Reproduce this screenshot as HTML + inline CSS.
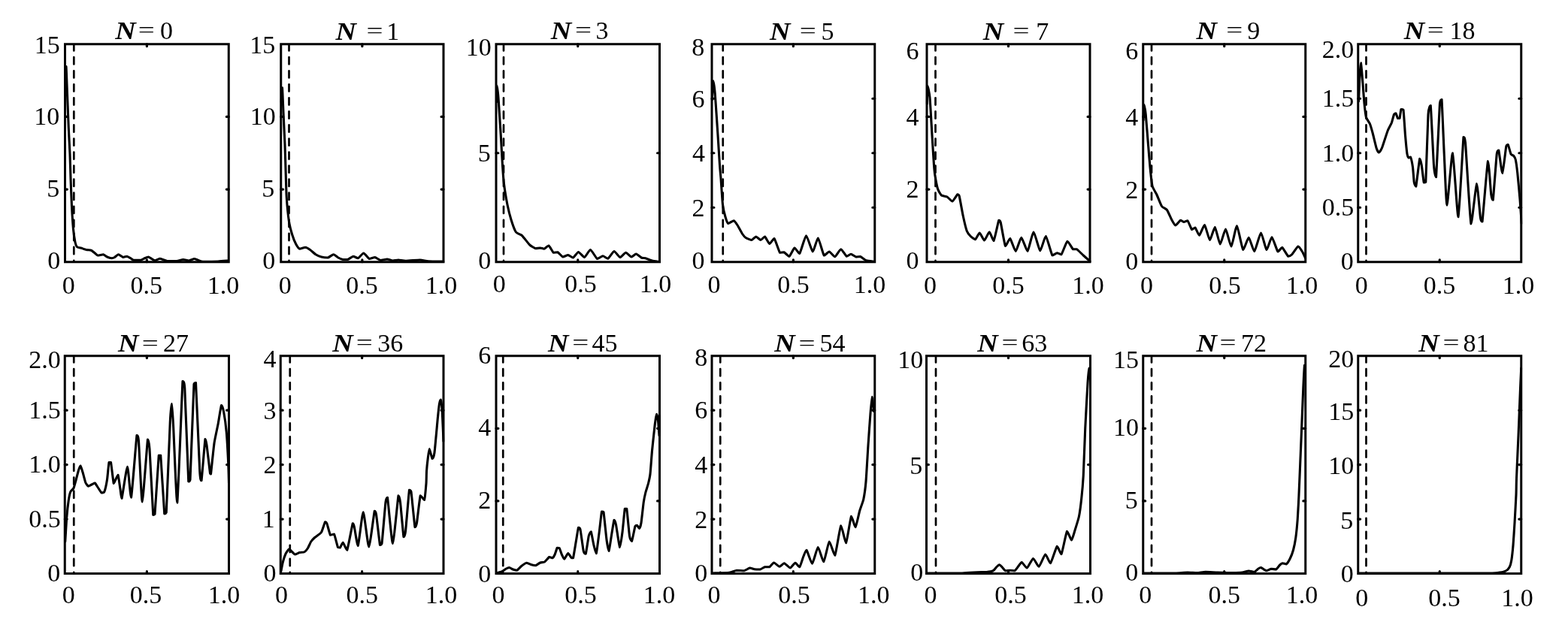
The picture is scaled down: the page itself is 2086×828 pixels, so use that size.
<!DOCTYPE html>
<html lang="en"><head><meta charset="utf-8"><title>Distributions for N</title>
<style>html,body{margin:0;padding:0;background:#fff}svg{display:block}text{font-family:"Liberation Serif","Times New Roman",serif;fill:#000}.t{font-size:34px}.n{font-size:34px;font-weight:bold;font-style:italic}.ax{fill:none;stroke:#000;stroke-width:3;stroke-linejoin:miter}.tk{stroke:#000;stroke-width:3.2;stroke-linecap:round}.cv{fill:none;stroke:#000;stroke-width:3.1;stroke-linejoin:round;stroke-linecap:round}.ds{stroke:#000;stroke-width:2.7;stroke-dasharray:9.25 8.8;stroke-linecap:round}</style></head><body>
<svg width="2086" height="828" viewBox="0 0 2086 828">
<rect width="2086" height="828" fill="#fff"/>
<g>
<clipPath id="c0"><rect x="85" y="57.25" width="220.75" height="293"/></clipPath>
<line class="ds" x1="98.3" y1="60.25" x2="98.3" y2="347.25" stroke-dashoffset="2.1"/>
<path class="cv" clip-path="url(#c0)" d="M86.9 102C87 100.78 87.81 88.5 88 88.5C88.19 89.44 88.71 105.17 89 112.5C89.29 119.83 90.89 161.68 91.25 170C91.61 178.32 92.75 198.93 93 205C93.25 211.07 93.78 231.2 94 237.5C94.22 243.8 95.19 268.93 95.5 275C95.81 281.07 97.09 300.73 97.5 305C97.91 309.27 99.55 320.36 100 322.5C100.45 324.64 101.83 328.07 102.5 328.75C103.17 329.43 106.38 329.66 107.5 330C108.62 330.34 113.76 332.21 115 332.5C116.24 332.79 120.24 332.85 121.25 333.25C122.26 333.65 125.46 336.39 126.25 337C127.04 337.61 128.99 339.84 130 340C131.01 340 136.38 338.75 137.5 338.75C138.62 338.93 141.49 341.55 142.5 342C143.51 342.45 147.85 343.7 148.75 343.75C149.65 343.75 151.71 342.95 152.5 342.5C153.29 342.05 156.49 338.75 157.5 338.75C158.51 338.75 162.74 342.27 163.75 342.5C164.76 342.5 167.85 341.25 168.75 341.25C169.65 341.36 172.96 343.3 173.75 343.75C174.54 344.2 176.26 346.02 177.5 346.25C178.74 346.25 186.15 346.25 187.5 346.25C188.85 346.02 191.6 344.13 192.5 343.75C193.4 343.37 196.6 342 197.5 342C198.4 342.11 201.71 344.57 202.5 345C203.29 345.43 205.35 346.75 206.25 346.75C207.15 346.68 211.49 344.34 212.5 344.25C213.51 344.25 216.6 345.46 217.5 345.75C218.4 346.04 220.93 347.34 222.5 347.5C224.07 347.5 233.09 347.5 235 347.5C236.91 347.32 242.29 345.55 243.75 345.5C245.21 345.5 249.9 347 251.25 347C252.6 346.91 257.51 344.5 258.75 344.5C259.99 344.5 263.99 346.66 265 347C266.01 347.34 267.75 348.16 270 348.25C272.25 348.25 286.96 348.11 290 348C293.04 347.89 302.51 347.09 303.75 347"/>
<rect class="ax" x="86.5" y="58.75" width="217.75" height="290"/>
<path class="tk" d="M195.38 58.75v2.9 M195.38 348.75v-2.9 M86.5 155.42h2.9 M304.25 155.42h-2.9 M86.5 252.08h2.9 M304.25 252.08h-2.9"/>
<text class="t" text-anchor="end" x="79.7" y="71.05">15</text>
<text class="t" text-anchor="end" x="79.2" y="165.8">10</text>
<text class="t" text-anchor="end" x="79.2" y="262.3">5</text>
<text class="t" text-anchor="end" x="80.2" y="358.3">0</text>
<text class="t" text-anchor="middle" x="91.25" y="390.5">0</text>
<text class="t" text-anchor="middle" x="194.75" y="390.5">0.5</text>
<text class="t" text-anchor="middle" x="296.9" y="390.5">1.0</text>
<text class="n" transform="translate(153.25 52) scale(1.12 1)">N</text>
<text class="t" transform="translate(183.76 49.4) scale(1.15 0.78)">=</text>
<text class="t" text-anchor="middle" x="221.5" y="52">0</text>
</g>
<g>
<clipPath id="c1"><rect x="372.25" y="57.25" width="219.25" height="293"/></clipPath>
<line class="ds" x1="384.5" y1="60.25" x2="384.5" y2="347.25" stroke-dashoffset="2.1"/>
<path class="cv" clip-path="url(#c1)" d="M374.2 136C374.32 134.27 375.25 116.75 375.5 116.75C375.75 118.01 376.69 143.18 377 150C377.31 156.82 378.73 185.75 379 192.5C379.27 199.25 379.8 218.7 380 225C380.2 231.3 380.85 256.2 381.25 262.5C381.65 268.8 383.82 290.5 384.5 295C385.18 299.5 387.92 309.8 388.75 312.5C389.58 315.2 392.85 323.31 393.75 325C394.65 326.69 397.62 330.87 398.75 331.25C399.88 331.25 405.01 329.25 406.25 329.25C407.49 329.36 411.26 331.64 412.5 332.5C413.74 333.36 418.65 337.89 420 338.75C421.35 339.61 426.04 341.62 427.5 342C428.96 342.38 434.79 343 436.25 343C437.71 342.71 442.51 338.75 443.75 338.75C444.99 338.75 448.88 342.39 450 343C451.12 343.61 455.12 345.27 456.25 345.5C457.38 345.5 461.26 345.5 462.5 345.5C463.74 345.12 468.76 341.41 470 341.25C471.24 341.25 475.01 343.75 476.25 343.75C477.49 343.37 482.4 337 483.75 337C485.1 337.07 489.9 344 491.25 344.5C492.6 344.5 497.4 342.5 498.75 342.5C500.1 342.68 504.79 346.27 506.25 346.5C507.71 346.5 513.54 345 515 345C516.46 345.05 521.15 346.91 522.5 347C523.85 347 528.42 346 530 346C531.58 346.02 537.41 347.25 540 347.25C542.59 347.25 556.05 346 558.75 346C561.45 346.05 567.19 347.57 570 347.75C572.81 347.93 588.2 347.98 590 348"/>
<rect class="ax" x="373.75" y="58.75" width="216.25" height="290"/>
<path class="tk" d="M481.88 58.75v2.9 M481.88 348.75v-2.9 M373.75 155.42h2.9 M590 155.42h-2.9 M373.75 252.08h2.9 M590 252.08h-2.9"/>
<text class="t" text-anchor="end" x="366.2" y="71.05">15</text>
<text class="t" text-anchor="end" x="366.7" y="165.8">10</text>
<text class="t" text-anchor="end" x="365.2" y="262.3">5</text>
<text class="t" text-anchor="end" x="366.2" y="358.05">0</text>
<text class="t" text-anchor="middle" x="379.25" y="390.5">0</text>
<text class="t" text-anchor="middle" x="481.5" y="390.5">0.5</text>
<text class="t" text-anchor="middle" x="586.9" y="390.5">1.0</text>
<text class="n" transform="translate(446.5 52.5) scale(1.12 1)">N</text>
<text class="t" transform="translate(487.51 49.9) scale(1.15 0.78)">=</text>
<text class="t" text-anchor="middle" x="522.75" y="52.5">1</text>
</g>
<g>
<clipPath id="c2"><rect x="658.5" y="57.25" width="220.5" height="293"/></clipPath>
<line class="ds" x1="670" y1="60.25" x2="670" y2="347.25" stroke-dashoffset="2.1"/>
<path class="cv" clip-path="url(#c2)" d="M660.4 136C660.48 134.04 661.02 114.79 661.25 114.25C661.48 114.25 662.55 124.08 663 130C663.45 135.92 665.75 171.9 666.25 180C666.75 188.1 668.12 214.15 668.5 220C668.88 225.85 669.91 240.28 670.5 245C671.09 249.72 674.14 268.23 675 272.5C675.86 276.77 678.99 289.24 680 292.5C681.01 295.76 685.01 306.9 686.25 308.75C687.49 310.6 692.62 312.1 693.75 313C694.88 313.9 697.74 317.56 698.75 318.75C699.76 319.94 703.76 325.17 705 326.25C706.24 327.33 711.26 330.41 712.5 330.75C713.74 330.75 717.74 330 718.75 330C719.76 330.05 722.74 331.25 723.75 331.25C724.76 330.98 728.88 327 730 327C731.12 327.45 735.17 335.46 736.25 336.25C737.33 336.25 740.88 335.75 742 335.75C743.12 336.27 747.51 341.66 748.75 342C749.99 342 754.51 339.5 755.75 339.5C756.99 339.59 761.26 343 762.5 343C763.74 342.64 768.15 335.55 769.5 335.5C770.85 335.5 776.06 342.5 777.5 342.5C778.94 342.23 783.97 332.5 785.5 332.5C787.03 332.68 793.01 343.76 794.5 344.5C795.99 344.5 800.72 340.77 802 340.75C803.28 340.75 807.4 344.25 808.75 344.25C810.1 343.69 815.54 334.66 817 334.5C818.46 334.5 823.61 342.34 825 342.5C826.39 342.5 831.15 336.3 832.5 336.25C833.85 336.25 838.76 341.84 840 342C841.24 342 845.01 338 846.25 338C847.49 338.11 852.62 342.73 853.75 343.25C854.88 343.75 857.51 343.41 858.75 343.75C859.99 344.09 865.92 346.57 867.5 347C869.08 347.43 875.46 348.37 876.25 348.5"/>
<rect class="ax" x="660" y="58.75" width="217.5" height="290"/>
<path class="tk" d="M768.75 58.75v2.9 M768.75 348.75v-2.9 M660 203.75h2.9 M877.5 203.75h-2.9"/>
<text class="t" text-anchor="end" x="653.7" y="74.3">10</text>
<text class="t" text-anchor="end" x="652.7" y="215.05">5</text>
<text class="t" text-anchor="end" x="653.2" y="358.3">0</text>
<text class="t" text-anchor="middle" x="664.25" y="388.75">0</text>
<text class="t" text-anchor="middle" x="772.5" y="388.75">0.5</text>
<text class="t" text-anchor="middle" x="871.9" y="388.75">1.0</text>
<text class="n" transform="translate(732.75 52) scale(1.12 1)">N</text>
<text class="t" transform="translate(765.01 49.4) scale(1.15 0.78)">=</text>
<text class="t" text-anchor="middle" x="800.88" y="52">3</text>
</g>
<g>
<clipPath id="c3"><rect x="945.5" y="57.25" width="219.75" height="293"/></clipPath>
<line class="ds" x1="961.75" y1="60.25" x2="961.75" y2="347.25" stroke-dashoffset="2.1"/>
<path class="cv" clip-path="url(#c3)" d="M947.3 133C947.45 130.73 948.64 108.47 949 107.75C949.36 107.75 950.71 118.5 951.25 125C951.79 131.5 954.44 171.45 955 180C955.56 188.55 957.14 214.82 957.5 220C957.86 225.18 958.64 232.78 959 237.5C959.36 242.22 960.96 267.89 961.5 272.5C962.04 277.11 964.35 286.5 965 288.75C965.65 291 967.74 297.05 968.75 297.5C969.76 297.5 975.12 293.75 976.25 293.75C977.38 293.98 980.24 298.43 981.25 300C982.26 301.57 986.49 309.74 987.5 311.25C988.51 312.76 991.38 316.01 992.5 316.75C993.62 317.49 998.81 319.5 1000 319.5C1001.19 319.34 1004.67 315 1005.75 315C1006.83 315 1010.94 319.5 1012 319.5C1013.06 319.5 1016.44 315 1017.5 315C1018.56 315.45 1022.62 324.27 1023.75 324.5C1024.88 324.5 1028.76 317.5 1030 317.5C1031.24 318.56 1036.33 334.61 1037.5 336.25C1038.67 336.25 1041.88 335.75 1043 335.75C1044.12 336.2 1048.74 341.25 1050 341.25C1051.26 340.73 1055.76 330.34 1057 330C1058.24 330 1062.36 337.5 1063.75 337.5C1065.14 336.04 1070.92 313.98 1072.5 313.75C1074.08 313.75 1079.83 334.71 1081.25 335C1082.67 335 1086.9 317 1088.25 317C1089.6 317.45 1094.9 338.38 1096.25 340C1097.6 340 1101.94 335 1103.25 335C1104.56 335.16 1109.36 341.75 1110.75 341.75C1112.14 341.46 1117.36 331.8 1118.75 331.75C1120.14 331.75 1125.06 340.67 1126.25 341.25C1127.44 341.25 1130.88 338.25 1132 338.25C1133.12 338.32 1137.62 341.71 1138.75 342C1139.88 342 1143.26 341.5 1144.5 341.5C1145.74 341.93 1150.88 346.14 1152.5 346.75C1154.12 347.36 1161.6 348.12 1162.5 348.25"/>
<rect class="ax" x="947" y="58.75" width="216.75" height="290"/>
<path class="tk" d="M1055.38 58.75v2.9 M1055.38 348.75v-2.9 M947 131.25h2.9 M1163.75 131.25h-2.9 M947 203.75h2.9 M1163.75 203.75h-2.9 M947 276.25h2.9 M1163.75 276.25h-2.9"/>
<text class="t" text-anchor="end" x="937.2" y="74.2">8</text>
<text class="t" text-anchor="end" x="937.45" y="143.3">6</text>
<text class="t" text-anchor="end" x="937.95" y="215.2">4</text>
<text class="t" text-anchor="end" x="937.45" y="288.3">2</text>
<text class="t" text-anchor="end" x="937.45" y="357.8">0</text>
<text class="t" text-anchor="middle" x="950" y="390">0</text>
<text class="t" text-anchor="middle" x="1055.6" y="390">0.5</text>
<text class="t" text-anchor="middle" x="1156.9" y="390">1.0</text>
<text class="n" transform="translate(1024 52.5) scale(1.12 1)">N</text>
<text class="t" transform="translate(1063.76 49.9) scale(1.15 0.78)">=</text>
<text class="t" text-anchor="middle" x="1101.12" y="52.5">5</text>
</g>
<g>
<clipPath id="c4"><rect x="1231.5" y="57.25" width="220" height="293"/></clipPath>
<line class="ds" x1="1244.5" y1="60.25" x2="1244.5" y2="347.25" stroke-dashoffset="2.1"/>
<path class="cv" clip-path="url(#c4)" d="M1233.3 138C1233.36 135.86 1233.67 114.97 1234 114.25C1234.33 114.25 1236.46 124.08 1237 130C1237.54 135.92 1239.51 171.9 1240 180C1240.49 188.1 1242.16 215.28 1242.5 220C1242.84 224.72 1243.3 229.69 1243.75 232.5C1244.2 235.31 1246.71 248.78 1247.5 251.25C1248.29 253.72 1251.38 259.03 1252.5 260C1253.62 260.97 1258.69 261.28 1260 262C1261.31 262.72 1265.76 268 1267 268C1268.24 267.71 1272.92 259.36 1273.75 258.75C1274.58 258.75 1275.58 258.75 1276.25 261.25C1276.92 263.84 1280.35 283.34 1281.25 287.5C1282.15 291.66 1285.35 305.07 1286.25 307.5C1287.15 309.93 1290.24 313.49 1291.25 314.5C1292.26 315.51 1296.42 318.75 1297.5 318.75C1298.58 318.35 1302.17 310 1303.25 310C1304.33 310.11 1308.33 320 1309.5 320C1310.67 319.89 1315.12 308.75 1316.25 308.75C1317.38 308.8 1320.88 320.5 1322 320.5C1323.12 319.11 1327.92 295.43 1328.75 293.25C1329.58 293.25 1330.46 293.25 1331.25 296.25C1332.04 299.33 1336.38 325.59 1337.5 327.5C1338.62 327.5 1342.51 317.5 1343.75 317.5C1344.99 318.13 1349.9 334.5 1351.25 334.5C1352.6 334.39 1357.33 316.27 1358.75 316.25C1360.17 316.25 1365.54 334.25 1367 334.25C1368.46 333.57 1373.49 308.8 1375 308.75C1376.51 308.75 1382.29 333.23 1383.75 333.75C1385.21 333.75 1389.79 314.5 1391.25 314.5C1392.71 315.06 1398.65 338 1400 340C1401.35 340 1405.17 336.86 1406.25 336.75C1407.33 336.75 1410.76 338.75 1412 338.75C1413.24 337.36 1418.61 321.88 1420 321.25C1421.39 321.25 1426.38 330.81 1427.5 331.75C1428.62 331.75 1431.26 331.75 1432.5 331.75C1433.74 332.49 1439.63 338.54 1441.25 340C1442.87 341.46 1449.67 347.28 1450.5 348"/>
<rect class="ax" x="1233" y="58.75" width="217" height="290"/>
<path class="tk" d="M1341.5 58.75v2.9 M1341.5 348.75v-2.9 M1233 155.42h2.9 M1450 155.42h-2.9 M1233 252.08h2.9 M1450 252.08h-2.9"/>
<text class="t" text-anchor="end" x="1222.45" y="79.2">6</text>
<text class="t" text-anchor="end" x="1222.45" y="166.8">4</text>
<text class="t" text-anchor="end" x="1222.45" y="262.7">2</text>
<text class="t" text-anchor="end" x="1222.45" y="358.3">0</text>
<text class="t" text-anchor="middle" x="1237.5" y="390.5">0</text>
<text class="t" text-anchor="middle" x="1341.5" y="390.5">0.5</text>
<text class="t" text-anchor="middle" x="1447.5" y="390.5">1.0</text>
<text class="n" transform="translate(1307.75 52.5) scale(1.12 1)">N</text>
<text class="t" transform="translate(1347.51 49.9) scale(1.15 0.78)">=</text>
<text class="t" text-anchor="middle" x="1386.75" y="52.5">7</text>
</g>
<g>
<clipPath id="c5"><rect x="1519.25" y="57.25" width="219" height="293"/></clipPath>
<line class="ds" x1="1532" y1="60.25" x2="1532" y2="347.25" stroke-dashoffset="2.1"/>
<path class="cv" clip-path="url(#c5)" d="M1521.1 160C1521.18 158.13 1521.72 139.93 1522 139.25C1522.28 139.25 1523.76 147.71 1524.25 152.5C1524.74 157.29 1526.98 186.2 1527.5 192.5C1528.02 198.8 1529.51 217.55 1530 222.5C1530.49 227.45 1532.21 244.24 1533 247.5C1533.79 250.76 1537.62 256.32 1538.75 258.75C1539.88 261.18 1544.26 272.63 1545.5 274.5C1546.74 276.37 1551.31 277.88 1552.5 279.5C1553.69 281.12 1557.74 290.65 1558.75 292.5C1559.76 294.35 1562.69 299.93 1563.75 300C1564.81 300 1569.49 293.65 1570.5 293.25C1571.51 293.25 1574.14 295.45 1575 295.5C1575.86 295.5 1579.06 293.75 1580 293.75C1580.94 294.65 1584.6 304.67 1585.5 305.5C1586.4 305.5 1589.1 303 1590 303C1590.9 303.7 1594.38 313.25 1595.5 313.25C1596.62 312.94 1601.24 299.5 1602.5 299.5C1603.76 300.06 1608.26 319.23 1609.5 319.5C1610.74 319.5 1615.01 302.5 1616.25 302.5C1617.49 303 1621.97 324.77 1623.25 325C1624.53 325 1629.17 305 1630.5 305C1631.83 305.27 1636.65 328 1638 328C1639.35 327.62 1644.08 300.75 1645.5 300.75C1646.92 301.15 1652.33 331.11 1653.75 332.5C1655.17 332.5 1659.9 316.25 1661.25 316.25C1662.6 316.43 1667.29 334.5 1668.75 334.5C1670.21 333.94 1676.04 310.18 1677.5 310C1678.96 310 1683.69 331.98 1685 332.5C1686.31 332.5 1690.65 315.75 1692 315.75C1693.35 315.98 1698.76 333.76 1700 335C1701.24 335 1704.51 329.5 1705.75 329.5C1706.99 330.06 1712.58 340.42 1713.75 341.25C1714.92 341.25 1717.56 339.94 1718.75 338.75C1719.94 337.56 1725.76 328.34 1727 328C1728.24 328 1731.62 333.58 1732.5 335C1733.38 336.42 1736.37 342.96 1736.75 343.75"/>
<rect class="ax" x="1520.75" y="58.75" width="216" height="290"/>
<path class="tk" d="M1628.75 58.75v2.9 M1628.75 348.75v-2.9 M1520.75 155.42h2.9 M1736.75 155.42h-2.9 M1520.75 252.08h2.9 M1736.75 252.08h-2.9"/>
<text class="t" text-anchor="end" x="1514.2" y="79.2">6</text>
<text class="t" text-anchor="end" x="1514.2" y="167.05">4</text>
<text class="t" text-anchor="end" x="1514.2" y="264.3">2</text>
<text class="t" text-anchor="end" x="1514.2" y="359.3">0</text>
<text class="t" text-anchor="middle" x="1525.5" y="390.5">0</text>
<text class="t" text-anchor="middle" x="1629.4" y="390.5">0.5</text>
<text class="t" text-anchor="middle" x="1731.9" y="390.5">1.0</text>
<text class="n" transform="translate(1591.5 52) scale(1.12 1)">N</text>
<text class="t" transform="translate(1631.26 49.4) scale(1.15 0.78)">=</text>
<text class="t" text-anchor="middle" x="1667.75" y="52">9</text>
</g>
<g>
<clipPath id="c6"><rect x="1805.25" y="57.25" width="220" height="293"/></clipPath>
<line class="ds" x1="1817.5" y1="60.25" x2="1817.5" y2="347.25" stroke-dashoffset="2.1"/>
<path class="cv" clip-path="url(#c6)" d="M1807.5 135C1807.63 131.85 1808.73 104.61 1809 100C1809.27 95.39 1810.18 83.75 1810.5 83.75C1810.82 84.2 1812.1 100.16 1812.5 105C1812.9 109.84 1814.55 132.89 1815 137.5C1815.45 142.11 1816.83 153.78 1817.5 156.25C1818.17 158.72 1821.71 163.09 1822.5 165C1823.29 166.91 1825.46 174.57 1826.25 177.5C1827.04 180.43 1830.51 195.21 1831.25 197.5C1831.99 199.79 1833.83 203 1834.5 203C1835.17 202.89 1837.69 198.88 1838.75 196.25C1839.81 193.62 1845.12 176.68 1846.25 173.75C1847.38 170.82 1850.51 165.66 1851.25 163.75C1851.99 161.84 1853.98 153.67 1854.5 152.5C1855.02 151.33 1856.55 150.75 1857 150.75C1857.45 151.2 1859.05 156.89 1859.5 157.5C1859.95 157.5 1861.6 157.5 1862 157.5C1862.4 156.42 1863.55 146.51 1864 145.5C1864.45 145.5 1866.51 145.5 1867 146.25C1867.49 149.35 1869.05 174.71 1869.5 180C1869.95 185.29 1871.6 202.3 1872 205C1872.4 207.7 1873.6 209.64 1874 210C1874.4 210 1876.01 209 1876.5 209C1876.99 210.12 1879.07 219.49 1879.5 222.5C1879.93 225.51 1880.87 240.18 1881.25 242.5C1881.63 244.82 1883.08 248.25 1883.75 248.25C1884.42 245.44 1888.08 213.79 1888.75 211.25C1889.42 211.25 1890.76 217.14 1891.25 220C1891.74 222.86 1893.76 240.97 1894.25 243C1894.74 243 1896.23 243 1896.75 242.5C1897.27 234.35 1899.41 161.68 1900 152.5C1900.59 143.32 1902.58 140.5 1903.25 140.5C1903.92 146.57 1906.85 211.43 1907.5 220C1908.15 228.57 1909.78 235.75 1910.5 235.75C1911.22 228.32 1914.83 146.79 1915.5 137.5C1916.17 132.5 1917.48 132.5 1918 132.5C1918.52 138.57 1920.62 192.33 1921.25 205C1921.88 217.67 1923.99 273.25 1925 273.25C1926.01 273.14 1931.15 203.75 1932.5 203.75C1933.85 205.15 1938.69 288.75 1940 288.75C1941.31 286.84 1946.14 191.39 1947 182.5C1947.86 182.5 1948.6 182.5 1949.5 190C1950.4 200.4 1955.65 293.1 1957 298C1958.35 298 1963.38 245.22 1964.5 244.5C1965.62 244.5 1968.83 285.45 1969.5 290C1970.17 294.55 1971.1 295 1972 295C1972.9 288.2 1978.44 217.76 1979.5 214.5C1980.56 214.5 1983.14 254.09 1983.75 258.75C1984.36 263.41 1985.58 266.25 1986.25 266.25C1986.92 261.41 1990.58 210.96 1991.25 205C1991.92 200 1993.08 200 1993.75 200C1994.42 202.29 1997.85 230.5 1998.75 230.5C1999.65 230.05 2003.08 198.42 2003.75 195C2004.42 192.5 2005.69 192.5 2006.25 192.5C2006.81 193.4 2009.33 203.65 2010 205C2010.67 206.35 2013.19 206.82 2013.75 207.5C2014.31 208.18 2015.8 210.47 2016.25 212.5C2016.7 214.53 2018.23 225.28 2018.75 230C2019.27 234.72 2021.51 258.93 2022 265C2022.49 271.07 2024.05 294.57 2024.25 297.5"/>
<rect class="ax" x="1806.75" y="58.75" width="217" height="290"/>
<path class="tk" d="M1915.25 58.75v2.9 M1915.25 348.75v-2.9 M1806.75 131.25h2.9 M2023.75 131.25h-2.9 M1806.75 203.75h2.9 M2023.75 203.75h-2.9 M1806.75 276.25h2.9 M2023.75 276.25h-2.9"/>
<text class="t" text-anchor="end" x="1801.2" y="76.8">2.0</text>
<text class="t" text-anchor="end" x="1801.2" y="142.3">1.5</text>
<text class="t" text-anchor="end" x="1801.2" y="215.3">1.0</text>
<text class="t" text-anchor="end" x="1801.2" y="287.3">0.5</text>
<text class="t" text-anchor="end" x="1800.7" y="359.3">0</text>
<text class="t" text-anchor="middle" x="1811.25" y="390.5">0</text>
<text class="t" text-anchor="middle" x="1915" y="390.5">0.5</text>
<text class="t" text-anchor="middle" x="2020" y="390.5">1.0</text>
<text class="n" transform="translate(1867.75 52) scale(1.12 1)">N</text>
<text class="t" transform="translate(1898.76 49.4) scale(1.15 0.78)">=</text>
<text class="t" text-anchor="middle" x="1945.5" y="52">18</text>
</g>
<g>
<clipPath id="c7"><rect x="84.75" y="472.25" width="221.25" height="292.75"/></clipPath>
<line class="ds" x1="98.25" y1="475.25" x2="98.25" y2="762" stroke-dashoffset="2.1"/>
<path class="cv" clip-path="url(#c7)" d="M86.75 721C86.93 718.08 88.34 693.45 88.75 688.5C89.16 683.55 90.8 669.04 91.25 666C91.7 662.96 93.14 656.21 93.75 654.75C94.36 653.29 97.33 651.21 98 649.75C98.67 648.29 100.67 640.64 101.25 638.5C101.83 636.36 103.98 627.66 104.5 626C105.02 624.34 106.5 620 107 620C107.5 620.23 109.39 626.5 110 628.5C110.61 630.5 113.08 640.56 113.75 642.25C114.42 643.94 116.71 647.02 117.5 647.25C118.29 647.25 121.71 645.13 122.5 644.75C123.29 644.37 125.58 643 126.25 643C126.92 643.34 129.21 647.33 130 648.5C130.79 649.67 134.21 655.44 135 656C135.79 656 138.07 656 138.75 654.75C139.43 653.17 141.94 642.03 142.5 638.5C143.06 634.97 144.55 617.57 145 615.5C145.45 615.5 146.94 615.5 147.5 615.5C148.06 618.02 150.69 641.43 151.25 643.5C151.81 643.5 153.23 639.51 153.75 638.5C154.27 637.49 156.44 632.25 157 632.25C157.56 633.38 159.55 648.19 160 651C160.45 653.81 161.15 663.5 162 663.5C162.85 660.82 168.38 621.36 169.5 621.25C170.62 621.25 173.38 662.25 174.5 662.25C175.62 658.49 181.1 586.23 182 579.5C182.9 579.5 183.85 579.53 184.5 587.5C185.15 595.47 188.17 668 189.25 668C190.33 667.77 195.62 591.35 196.5 585C197.38 585 198.35 588.46 199 597.5C199.65 606.54 203.12 677.67 203.75 685.5C204.38 685.5 205.32 685.5 206 684.5C206.68 677.37 210.55 613.29 211.25 606.25C211.95 606.25 213.07 606.25 213.75 606.25C214.43 613.25 218.07 677.16 218.75 684C219.43 684 220.57 684 221.25 682.25C221.93 671.32 225.62 575.53 226.25 562.5C226.88 549.47 227.87 537.5 228.25 537.5C228.63 537.73 229.82 553.14 230.5 565C231.18 576.86 234.62 669.25 235.75 669.25C236.88 664.08 242.1 521.27 243 507.5C243.9 507.5 245.05 507.5 245.75 516.25C246.45 528.26 250.1 630 250.75 641C251.4 641 252.35 641 253 638.5C253.65 626.82 257.32 522.86 258 511.25C258.68 509.5 259.8 509.5 260.5 509.5C261.2 519.96 265.07 615.78 265.75 627.5C266.43 639.22 267.35 639.75 268 639.75C268.65 635.88 272.37 588.75 273 584.5C273.63 584.5 274.42 588.4 275 592.5C275.58 596.6 279 626.53 279.5 630C280 631 280 631 280.5 631C281 627.4 284.14 595.94 285 590C285.86 584.06 289.14 569.54 290 565C290.86 560.46 293.82 541.08 294.5 539.5C295.18 539.5 296.89 544.3 297.5 547.5C298.11 550.7 300.69 568.7 301.25 575C301.81 581.3 303.46 611.34 303.75 617.5C304.04 623.66 304.43 641.16 304.5 643.5"/>
<rect class="ax" x="86.25" y="473.75" width="218.25" height="289.75"/>
<path class="tk" d="M195.38 473.75v2.9 M195.38 763.5v-2.9 M86.25 546.19h2.9 M304.5 546.19h-2.9 M86.25 618.62h2.9 M304.5 618.62h-2.9 M86.25 691.06h2.9 M304.5 691.06h-2.9"/>
<text class="t" text-anchor="end" x="80.7" y="489.6">2.0</text>
<text class="t" text-anchor="end" x="80.7" y="556.8">1.5</text>
<text class="t" text-anchor="end" x="80.7" y="628.8">1.0</text>
<text class="t" text-anchor="end" x="80.7" y="701.8">0.5</text>
<text class="t" text-anchor="end" x="80.2" y="773.8">0</text>
<text class="t" text-anchor="middle" x="91.25" y="803">0</text>
<text class="t" text-anchor="middle" x="194" y="803">0.5</text>
<text class="t" text-anchor="middle" x="298" y="803">1.0</text>
<text class="n" transform="translate(157 468.2) scale(1.12 1)">N</text>
<text class="t" transform="translate(188.76 465.6) scale(1.15 0.78)">=</text>
<text class="t" text-anchor="middle" x="234.12" y="468.2">27</text>
</g>
<g>
<clipPath id="c8"><rect x="371.75" y="472.25" width="219.75" height="292.75"/></clipPath>
<line class="ds" x1="385.75" y1="475.25" x2="385.75" y2="762" stroke-dashoffset="2.1"/>
<path class="cv" clip-path="url(#c8)" d="M373.75 761C373.98 759.88 375.69 750.64 376.25 748.5C376.81 746.36 379.26 738.83 380 737.25C380.74 735.67 383.71 731.23 384.5 731C385.29 731 388.03 734.12 388.75 734.75C389.47 735.38 391.6 737.93 392.5 738C393.4 738 397.62 735.79 398.75 735.5C399.88 735.21 404.03 735.27 405 734.75C405.97 734.23 408.71 730.99 409.5 729.75C410.29 728.51 412.92 722.28 413.75 721C414.58 719.72 417.51 716.62 418.75 715.5C419.99 714.38 426.26 710.37 427.5 708.5C428.74 706.63 431.82 695.76 432.5 694.75C433.18 694.75 434.37 695.67 435 697.25C435.63 698.83 438.64 711.01 439.5 712.25C440.36 712.25 443.6 711 444.5 711C445.4 712.46 448.78 726.88 449.5 728.5C450.22 729 451.89 729 452.5 729C453.11 728.44 455.42 722.25 456.25 722.25C457.08 722.54 460.58 732.25 461.75 732.25C462.92 729.96 468.39 699.56 469.25 696.75C470.11 696.75 470.62 698.32 471.25 701C471.88 703.68 475.17 726.5 476.25 726.5C477.33 724.77 481.94 681.75 483.25 681.75C484.56 681.88 489.4 728 490.75 728C492.1 727.87 497.37 684.14 498.25 680.25C499.13 680.25 499.85 680.68 500.5 684.75C501.15 688.82 504.82 722.01 505.5 725.5C506.18 725.5 507.32 725.5 508 723.5C508.68 718.37 512.33 674.01 513 668.5C513.67 662.99 514.64 662.25 515.5 662.25C516.36 667.2 521.2 723.5 522.5 723.5C523.8 723.27 529.1 664.7 530 659.75C530.9 659.75 531.87 663.55 532.5 668.5C533.13 673.45 536.37 711.26 537 714.75C537.63 714.75 538.83 712.88 539.5 707.25C540.17 701.62 543.83 656.98 544.5 652.25C545.17 652.25 546.33 652.25 547 654.75C547.67 659.21 551.33 698.04 552 701.75C552.67 701.75 553.85 699.78 554.5 696C555.15 692.22 558.35 662.5 559.25 659.75C560.15 659.75 563.8 665.5 564.5 665.5C565.2 664.04 566.73 646.92 567 643.5C567.27 640.08 567.3 630.51 567.5 627.5C567.7 624.49 568.91 612.7 569.25 610C569.59 607.3 570.73 597.5 571.25 597.5C571.77 597.54 574.39 610.05 575 610.5C575.61 610.5 577.33 607.5 578 602.5C578.67 597.5 581.91 560.85 582.5 555C583.09 549.15 584.16 539.57 584.5 537.5C584.84 535.43 585.91 532 586.25 532C586.59 532.9 587.91 542.5 588.25 547.5C588.59 552.5 589.84 583.9 590 587.5"/>
<rect class="ax" x="373.25" y="473.75" width="216.75" height="289.75"/>
<path class="tk" d="M481.62 473.75v2.9 M481.62 763.5v-2.9 M373.25 546.19h2.9 M590 546.19h-2.9 M373.25 618.62h2.9 M590 618.62h-2.9 M373.25 691.06h2.9 M590 691.06h-2.9"/>
<text class="t" text-anchor="end" x="367.45" y="488.7">4</text>
<text class="t" text-anchor="end" x="367.45" y="557.8">3</text>
<text class="t" text-anchor="end" x="367.45" y="630.2">2</text>
<text class="t" text-anchor="end" x="365.7" y="702.4">1</text>
<text class="t" text-anchor="end" x="367.45" y="774.3">0</text>
<text class="t" text-anchor="middle" x="374.5" y="803">0</text>
<text class="t" text-anchor="middle" x="481.75" y="803">0.5</text>
<text class="t" text-anchor="middle" x="586.9" y="803">1.0</text>
<text class="n" transform="translate(442.25 467.7) scale(1.12 1)">N</text>
<text class="t" transform="translate(473.76 465.1) scale(1.15 0.78)">=</text>
<text class="t" text-anchor="middle" x="519.25" y="467.7">36</text>
</g>
<g>
<clipPath id="c9"><rect x="658.5" y="472.25" width="220.5" height="292.75"/></clipPath>
<line class="ds" x1="669.25" y1="475.25" x2="669.25" y2="762" stroke-dashoffset="2.1"/>
<path class="cv" clip-path="url(#c9)" d="M660.5 763C661.13 762.82 666.38 761.52 667.5 761C668.62 760.48 672.1 757.75 673 757.25C673.9 756.75 676.64 755.5 677.5 755.5C678.36 755.57 681.6 757.66 682.5 758C683.4 758.34 686.49 759.25 687.5 759.25C688.51 758.85 692.58 754.4 693.75 753.5C694.92 752.6 699.31 749.41 700.5 749.25C701.69 749.25 705.92 751.43 707 751.75C708.08 752.07 711.44 752.75 712.5 752.75C713.56 752.5 717.67 749.43 718.75 749C719.83 748.57 723.42 748.67 724.5 748C725.58 747.33 729.8 741.97 730.75 741.5C731.7 741.5 734.35 742.75 735 742.75C735.65 742.48 737.44 739.72 738 738.5C738.56 737.28 740.69 730.04 741.25 729.25C741.81 729.25 743.69 729.25 744.25 729.75C744.81 730.58 746.91 737.2 747.5 738.5C748.09 739.8 750.01 744.25 750.75 744.25C751.49 744.07 754.92 736.68 755.75 736.5C756.58 736.5 759.39 741.69 760 742.25C760.61 742.75 761.94 742.75 762.5 742.75C763.06 740.84 765.62 724.64 766.25 721C766.88 717.36 768.98 703.71 769.5 702.25C770.02 702.25 771.39 702.25 772 704.75C772.61 707.56 775.6 730.58 776.25 733.5C776.9 736.42 778.62 737.25 779.25 737.25C779.88 735.45 782.62 716.15 783.25 713.5C783.88 710.85 785.64 707.75 786.25 707.75C786.86 708.88 789.37 723.39 790 726C790.63 728.61 792.58 736.75 793.25 736.75C793.92 734.95 796.85 711.02 797.5 706C798.15 700.98 800 683.18 800.5 681C801 681 802.41 681 803 681.75C803.59 685.12 806.37 713.84 807 718.5C807.63 723.16 809.39 733.5 810 733.5C810.61 732.83 813.12 714.71 813.75 711C814.38 707.29 816.48 693.38 817 692.25C817.52 692.25 818.83 695.24 819.5 698.5C820.17 701.76 823.74 727.6 824.5 728.5C825.26 728.5 827.39 713.11 828 708.5C828.61 703.89 830.73 680.06 831.25 677.25C831.77 677.25 833.19 677.25 833.75 677.25C834.31 680.51 836.89 709.61 837.5 713.5C838.11 717.39 839.83 720.5 840.5 720.5C841.17 719.33 844.37 702.41 845 700.5C845.63 699.25 847 699.25 847.5 699.25C848 699.52 850 703.5 850.5 703.5C851 703.21 852.48 699.15 853 696C853.52 692.85 855.73 672.1 856.25 668.5C856.77 664.9 858.19 658.25 858.75 656C859.31 653.75 861.94 645.75 862.5 643.5C863.06 641.25 864.55 634.91 865 631C865.45 627.09 866.94 605.94 867.5 600C868.06 594.06 870.69 569.39 871.25 565C871.81 560.61 873.37 551.7 873.75 551.25C874.13 551.25 875.21 557.41 875.5 560C875.79 562.59 876.87 578.2 877 580"/>
<rect class="ax" x="660" y="473.75" width="217.5" height="289.75"/>
<path class="tk" d="M768.75 473.75v2.9 M768.75 763.5v-2.9 M660 570.33h2.9 M877.5 570.33h-2.9 M660 666.92h2.9 M877.5 666.92h-2.9"/>
<text class="t" text-anchor="end" x="653.2" y="483.7">6</text>
<text class="t" text-anchor="end" x="653.2" y="580.2">4</text>
<text class="t" text-anchor="end" x="653.2" y="676.8">2</text>
<text class="t" text-anchor="end" x="653.2" y="774.55">0</text>
<text class="t" text-anchor="middle" x="663" y="803">0</text>
<text class="t" text-anchor="middle" x="772.5" y="803">0.5</text>
<text class="t" text-anchor="middle" x="876.9" y="803">1.0</text>
<text class="n" transform="translate(729 467.7) scale(1.12 1)">N</text>
<text class="t" transform="translate(761.26 465.1) scale(1.15 0.78)">=</text>
<text class="t" text-anchor="middle" x="804.62" y="467.7">45</text>
</g>
<g>
<clipPath id="c10"><rect x="945.5" y="472.25" width="219.75" height="292.75"/></clipPath>
<line class="ds" x1="958.25" y1="475.25" x2="958.25" y2="762" stroke-dashoffset="2.1"/>
<path class="cv" clip-path="url(#c10)" d="M948 763C949.98 762.93 967.12 762.59 970 762.25C972.88 761.91 978.2 759.48 980 759.25C981.8 759.25 988.42 759.75 990 759.75C991.58 759.46 996.26 756.18 997.5 756C998.74 756 1002.51 757.57 1003.75 757.75C1004.99 757.93 1010.01 758 1011.25 758C1012.49 757.73 1016.38 755.04 1017.5 754.75C1018.62 754.75 1022.67 754.75 1023.75 754.75C1024.83 754.23 1028.31 749.04 1029.5 749C1030.69 749 1035.76 754.18 1037 754.25C1038.24 754.25 1041.97 749.75 1043.25 749.75C1044.53 749.91 1049.92 756 1051.25 756C1052.58 755.96 1056.88 749.36 1058 749.25C1059.12 749.25 1062.78 754.75 1063.75 754.75C1064.72 754.01 1067.92 743.02 1068.75 741C1069.58 738.98 1071.94 732.25 1073 732.25C1074.06 733.08 1079.13 750.25 1080.5 750.25C1081.87 749.91 1086.88 728.73 1088.25 728.5C1089.62 728.5 1094.4 747.75 1095.75 747.75C1097.1 747.08 1101.9 721.76 1103.25 721C1104.6 721 1109.36 739.25 1110.75 739.25C1112.14 737.34 1117.42 701.24 1118.75 699.75C1120.08 699.75 1124.26 722.75 1125.5 722.75C1126.74 721.62 1131.38 689.14 1132.5 687.25C1133.62 687.25 1136.99 701.75 1138 701.75C1139.01 701.08 1142.78 683.08 1143.75 679.75C1144.72 676.42 1148.01 668.24 1148.75 664.75C1149.49 661.26 1151.44 647.5 1152 641C1152.56 634.5 1154.46 600.69 1155 592.5C1155.54 584.31 1157.51 555.78 1158 550C1158.49 544.22 1160.1 528.48 1160.5 528.25C1160.9 528.25 1162.32 545.77 1162.5 547.5"/>
<rect class="ax" x="947" y="473.75" width="216.75" height="289.75"/>
<path class="tk" d="M1055.38 473.75v2.9 M1055.38 763.5v-2.9 M947 546.19h2.9 M1163.75 546.19h-2.9 M947 618.62h2.9 M1163.75 618.62h-2.9 M947 691.06h2.9 M1163.75 691.06h-2.9"/>
<text class="t" text-anchor="end" x="941.2" y="487.2">8</text>
<text class="t" text-anchor="end" x="941.2" y="556.8">6</text>
<text class="t" text-anchor="end" x="941.2" y="630.2">4</text>
<text class="t" text-anchor="end" x="941.2" y="702.7">2</text>
<text class="t" text-anchor="end" x="941.2" y="773.7">0</text>
<text class="t" text-anchor="middle" x="950" y="803">0</text>
<text class="t" text-anchor="middle" x="1056.5" y="803">0.5</text>
<text class="t" text-anchor="middle" x="1162.25" y="803">1.0</text>
<text class="n" transform="translate(1030.25 468.2) scale(1.12 1)">N</text>
<text class="t" transform="translate(1062.51 465.6) scale(1.15 0.78)">=</text>
<text class="t" text-anchor="middle" x="1107.38" y="468.2">54</text>
</g>
<g>
<clipPath id="c11"><rect x="1231" y="472.25" width="221" height="292.75"/></clipPath>
<line class="ds" x1="1245" y1="475.25" x2="1245" y2="762" stroke-dashoffset="2.1"/>
<path class="cv" clip-path="url(#c11)" d="M1233.75 763C1237.91 763 1274.04 763 1280 763C1285.96 762.89 1297.08 761.88 1300 761.75C1302.92 761.62 1310.59 761.68 1312.5 761.5C1314.41 761.32 1320.06 760.36 1321.25 759.75C1322.44 759.14 1325.01 755.47 1325.75 754.75C1326.49 754.03 1328.85 751.75 1329.5 751.75C1330.15 751.75 1332.28 754.03 1333 754.75C1333.72 755.47 1336.53 759.35 1337.5 759.75C1338.47 759.75 1342.62 759.25 1343.75 759.25C1344.88 759.25 1348.99 759.75 1350 759.75C1351.01 759.23 1354.17 754.51 1355 753.5C1355.83 752.49 1358.24 748.5 1359.25 748.5C1360.26 748.73 1364.88 756 1366.25 756C1367.62 755.55 1373.08 743.66 1374.5 743.5C1375.92 743.5 1380.54 754.25 1382 754.25C1383.46 753.75 1389.36 738.4 1390.75 738C1392.14 738 1396.11 749.75 1397.5 749.75C1398.89 748.78 1404.94 728.33 1406.25 727.25C1407.56 727.25 1410.81 737.75 1412 737.75C1413.19 735.95 1418.29 708.94 1419.5 707.25C1420.71 707.25 1424.56 719 1425.5 719C1426.44 718.89 1429.1 708.86 1430 706C1430.9 703.14 1434.71 691.08 1435.5 687.25C1436.29 683.42 1438.23 668.34 1438.75 663.5C1439.27 658.66 1440.8 641.91 1441.25 633.5C1441.7 625.09 1443.23 581.12 1443.75 570C1444.27 558.88 1446.51 517.2 1447 510C1447.49 502.8 1448.93 490.45 1449.25 490C1449.57 490 1450.39 503.65 1450.5 505"/>
<rect class="ax" x="1232.5" y="473.75" width="218" height="289.75"/>
<path class="tk" d="M1341.5 473.75v2.9 M1341.5 763.5v-2.9 M1232.5 618.62h2.9 M1450.5 618.62h-2.9"/>
<text class="t" text-anchor="end" x="1228.2" y="489.7">10</text>
<text class="t" text-anchor="end" x="1227.2" y="631.4">5</text>
<text class="t" text-anchor="end" x="1228.2" y="773.3">0</text>
<text class="t" text-anchor="middle" x="1238" y="803.25">0</text>
<text class="t" text-anchor="middle" x="1344.4" y="803.25">0.5</text>
<text class="t" text-anchor="middle" x="1446.9" y="803.25">1.0</text>
<text class="n" transform="translate(1300.25 467.7) scale(1.12 1)">N</text>
<text class="t" transform="translate(1332.51 465.1) scale(1.15 0.78)">=</text>
<text class="t" text-anchor="middle" x="1376.25" y="467.7">63</text>
</g>
<g>
<clipPath id="c12"><rect x="1519.25" y="472.25" width="219" height="292.75"/></clipPath>
<line class="ds" x1="1532" y1="475.25" x2="1532" y2="762" stroke-dashoffset="2.1"/>
<path class="cv" clip-path="url(#c12)" d="M1521.25 763C1525.19 763 1559.71 763 1565 763C1570.29 762.91 1577.53 762.04 1580 762C1582.47 762 1590.36 762.5 1592.5 762.5C1594.64 762.43 1601.28 761.29 1603.75 761.25C1606.22 761.25 1616.74 761.89 1620 762C1623.26 762.11 1637.08 762.5 1640 762.5C1642.92 762.5 1650.59 762.23 1652.5 762C1654.41 761.77 1659.79 760.04 1661.25 760C1662.71 760 1667.62 761.5 1668.75 761.5C1669.88 761.25 1672.96 757.79 1673.75 757.25C1674.54 756.71 1676.53 755.5 1677.5 755.5C1678.47 755.73 1683.26 759.59 1684.5 759.75C1685.74 759.75 1690.08 757.41 1691.25 757.25C1692.42 757.25 1696.49 758 1697.5 758C1698.51 757.55 1701.71 752.99 1702.5 752.25C1703.29 751.51 1705.46 749.86 1706.25 749.75C1707.04 749.75 1710.35 751 1711.25 751C1712.15 750.44 1715.42 745.19 1716.25 743.5C1717.08 741.81 1719.83 734.73 1720.5 732.25C1721.17 729.77 1723.23 719.71 1723.75 716C1724.27 712.29 1725.87 696.17 1726.25 691C1726.63 685.83 1727.55 668.49 1728 658.5C1728.45 648.51 1730.73 592.69 1731.25 580C1731.77 567.31 1733.37 525.94 1733.75 517.5C1734.13 509.06 1735.25 488.5 1735.5 486.25C1735.75 486.25 1736.41 491.94 1736.5 492.5"/>
<rect class="ax" x="1520.75" y="473.75" width="216" height="289.75"/>
<path class="tk" d="M1628.75 473.75v2.9 M1628.75 763.5v-2.9 M1520.75 570.33h2.9 M1736.75 570.33h-2.9 M1520.75 666.92h2.9 M1736.75 666.92h-2.9"/>
<text class="t" text-anchor="end" x="1514.95" y="489.7">15</text>
<text class="t" text-anchor="end" x="1514.95" y="579.7">10</text>
<text class="t" text-anchor="end" x="1513.7" y="677.2">5</text>
<text class="t" text-anchor="end" x="1514.2" y="773.3">0</text>
<text class="t" text-anchor="middle" x="1523.75" y="803.25">0</text>
<text class="t" text-anchor="middle" x="1628.75" y="803.25">0.5</text>
<text class="t" text-anchor="middle" x="1731.9" y="803.25">1.0</text>
<text class="n" transform="translate(1591.5 467.7) scale(1.12 1)">N</text>
<text class="t" transform="translate(1622.51 465.1) scale(1.15 0.78)">=</text>
<text class="t" text-anchor="middle" x="1668.12" y="467.7">72</text>
</g>
<g>
<clipPath id="c13"><rect x="1805.25" y="472.25" width="220" height="292.75"/></clipPath>
<line class="ds" x1="1817.5" y1="475.25" x2="1817.5" y2="762" stroke-dashoffset="2.1"/>
<path class="cv" clip-path="url(#c13)" d="M1807.5 763C1823.03 763 1963.12 763 1980 763C1995 762.91 1992.86 762.29 1995 762C1997.14 761.71 2002.56 760.4 2003.75 759.75C2004.94 759.1 2007.62 755.99 2008.25 754.75C2008.88 753.51 2010.32 748.59 2010.75 746C2011.18 743.41 2012.62 730.5 2013 726C2013.38 721.5 2014.64 702.08 2015 696C2015.36 689.92 2016.78 663.81 2017 658.5C2017.22 653.19 2017.23 644.07 2017.5 637C2017.77 629.93 2019.55 590.75 2020 580C2020.45 569.25 2022.16 525.6 2022.5 517.5C2022.84 509.4 2023.64 492.48 2023.75 490"/>
<rect class="ax" x="1806.75" y="473.75" width="217" height="289.75"/>
<path class="tk" d="M1915.25 473.75v2.9 M1915.25 763.5v-2.9 M1806.75 546.19h2.9 M2023.75 546.19h-2.9 M1806.75 618.62h2.9 M2023.75 618.62h-2.9 M1806.75 691.06h2.9 M2023.75 691.06h-2.9"/>
<text class="t" text-anchor="end" x="1801.2" y="488.7">20</text>
<text class="t" text-anchor="end" x="1801.2" y="558.9">15</text>
<text class="t" text-anchor="end" x="1801.2" y="631.4">10</text>
<text class="t" text-anchor="end" x="1800.2" y="703.7">5</text>
<text class="t" text-anchor="end" x="1800.7" y="774.9">0</text>
<text class="t" text-anchor="middle" x="1811.75" y="806.5">0</text>
<text class="t" text-anchor="middle" x="1921.5" y="806.5">0.5</text>
<text class="t" text-anchor="middle" x="2018.4" y="806.5">1.0</text>
<text class="n" transform="translate(1887.25 467.7) scale(1.12 1)">N</text>
<text class="t" transform="translate(1919.51 465.1) scale(1.15 0.78)">=</text>
<text class="t" text-anchor="middle" x="1963.38" y="467.7">81</text>
</g>
</svg></body></html>
